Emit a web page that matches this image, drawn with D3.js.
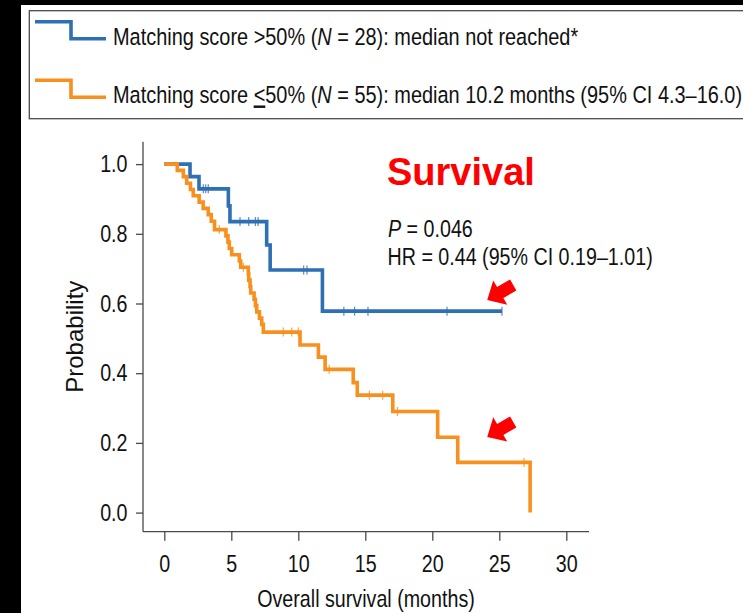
<!DOCTYPE html>
<html>
<head>
<meta charset="utf-8">
<script src="https://cdn.jsdelivr.net/npm/d3@7"></script>
<style>
  body { margin: 0; background: #fff; }
  svg { display: block; }
  text { font-family: "Liberation Sans", Arial, sans-serif; }
</style>
</head>
<body>
<div id="chart"></div>
<script>
// Kaplan-Meier steps (months, survival probability)
const blueTimes = [0, 1.92, 2.59, 4.78, 4.9, 7.64, 7.9, 11.8, 25.2];
const blueSurv = [1, 0.964, 0.929, 0.88, 0.835, 0.768, 0.696, 0.578, 0.578];
const blueCensor = [2.91, 3.09, 3.28, 5.65, 6.3, 6.8, 7.0, 10.4, 10.65, 13.4, 14.2, 15.2, 21.1, 25.2];

const orangeTimes = [0, 0.97, 1.42, 1.67, 1.95, 2.16, 2.6, 2.9, 3.28, 3.5, 3.75,
    4.6, 4.75, 4.85, 5.03, 5.6, 5.7, 6.27, 6.3, 6.4, 6.45, 6.7, 6.8, 6.9, 7.1, 7.27, 7.39,
    10.13, 11.5, 12.0, 14.1, 14.4, 17.05, 20.4, 21.9, 27.3];
const orangeSurv = [1, 0.982, 0.964, 0.945, 0.927, 0.909, 0.891, 0.873, 0.855, 0.836, 0.812,
    0.794, 0.776, 0.758, 0.74, 0.722, 0.704, 0.685, 0.667, 0.648, 0.63, 0.612, 0.594, 0.576, 0.558, 0.54, 0.518,
    0.481, 0.446, 0.411, 0.373, 0.337, 0.29, 0.216, 0.144, 0];
const orangeCensor = [4.1, 5.9, 8.88, 9.51, 10.0, 12.3, 15.3, 16.3, 17.4, 26.85];

const xTicks = [0, 5, 10, 15, 20, 25, 30];
const yTicks = [0, 0.2, 0.4, 0.6, 0.8, 1.0];

// red arrows pointing at the curves (tip position in data units)
const arrowTips = [[24.1, 0.61], [24.1, 0.217]];

const BLUE = '#2f6fb3';
const ORANGE = '#f7901e';
const AXIS = '#4a4a4a';
const SQUEEZE = 0.82;   // the figure is horizontally compressed

const W = 743, H = 613;

const svg = d3.select('#chart').append('svg')
    .attr('width', W)
    .attr('height', H);

// black edges of the screenshot
svg.append('rect').attr('x', 0).attr('y', 0).attr('width', W).attr('height', 5).attr('fill', '#000');
svg.append('rect').attr('x', 0).attr('y', 0).attr('width', 21).attr('height', H).attr('fill', '#000');

const x = d3.scaleLinear().domain([0, 30]).range([164.3, 566.3]);
const y = d3.scaleLinear().domain([0, 1]).range([512.6, 164.1]);

// squeezed text placed at (px, py)
function narrowText(px, py, size, anchor) {
    return svg.append('text')
        .attr('transform', `translate(${px},${py}) scale(${SQUEEZE},1)`)
        .attr('text-anchor', anchor || 'start')
        .attr('font-size', size)
        .attr('fill', '#111');
}

// --- legend box
svg.append('rect')
    .attr('x', 29.3).attr('y', 10.7)
    .attr('width', 800).attr('height', 108)
    .attr('fill', '#fff')
    .attr('stroke', AXIS).attr('stroke-width', 1.3);

function legendStep(color, top) {
    svg.append('path')
        .attr('d', `M35,${top}H71V${top + 17}H106`)
        .attr('fill', 'none')
        .attr('stroke', color)
        .attr('stroke-width', 3.6);
}
legendStep(BLUE, 21.7);
legendStep(ORANGE, 80.3);

const leg1 = narrowText(113, 45, 24.3);
leg1.append('tspan').text('Matching score >50% (');
leg1.append('tspan').attr('font-style', 'italic').text('N');
leg1.append('tspan').text(' = 28): median not reached*');

const leg2 = narrowText(113, 103.3, 24.3);
leg2.append('tspan').text('Matching score ');
leg2.append('tspan').style('text-decoration', 'underline').text('<');
leg2.append('tspan').text('50% (');
leg2.append('tspan').attr('font-style', 'italic').text('N');
leg2.append('tspan').text(' = 55): median 10.2 months (95% CI 4.3\u201316.0)');

// --- axes
const xAxis = svg.append('g')
    .attr('transform', 'translate(0,531.7)')
    .call(d3.axisBottom(x).tickValues(xTicks).tickSize(9).tickSizeOuter(0).tickPadding(14));
xAxis.select('.domain').remove();
xAxis.append('line').attr('x1', 143).attr('x2', 589).attr('stroke', AXIS).attr('stroke-width', 1.3);
xAxis.selectAll('.tick text')
    .attr('transform', `scale(${SQUEEZE},1)`);

const yAxis = svg.append('g')
    .attr('transform', 'translate(143,0)')
    .call(d3.axisLeft(y).tickValues(yTicks).tickSize(7).tickSizeOuter(0).tickPadding(8.5)
        .tickFormat(d3.format('.1f')));
yAxis.select('.domain').remove();
yAxis.append('line').attr('y1', 141.7).attr('y2', 531.7).attr('stroke', AXIS).attr('stroke-width', 1.3);
yAxis.selectAll('.tick text')
    .attr('x', 0)
    .attr('transform', `translate(-15.5,0) scale(${SQUEEZE},1)`);

[xAxis, yAxis].forEach(g => {
    g.selectAll('.tick line').attr('stroke', AXIS).attr('stroke-width', 1.3);
    g.selectAll('.tick text')
        .attr('font-family', '"Liberation Sans", Arial, sans-serif')
        .attr('font-size', 24)
        .attr('fill', '#111');
});

narrowText(366, 607, 24, 'middle').text('Overall survival (months)');

svg.append('text')
    .attr('transform', 'translate(82.5,336.7) rotate(-90)')
    .attr('text-anchor', 'middle')
    .attr('font-size', 24).attr('fill', '#111')
    .text('Probability');

// --- survival curves
const line = d3.line()
    .x(d => x(d[0]))
    .y(d => y(d[1]))
    .curve(d3.curveStepAfter);

function survAt(times, surv, t) {
    const i = d3.bisectRight(times, t) - 1;
    return surv[Math.max(0, i)];
}

function drawCurve(times, surv, censor, color) {
    svg.append('path')
        .datum(times.map((t, i) => [t, surv[i]]))
        .attr('d', line)
        .attr('fill', 'none')
        .attr('stroke', color)
        .attr('stroke-width', 3.6);

    svg.selectAll(null)
        .data(censor)
        .enter()
        .append('line')
        .attr('x1', d => x(d))
        .attr('x2', d => x(d))
        .attr('y1', d => y(survAt(times, surv, d)) - 4.5)
        .attr('y2', d => y(survAt(times, surv, d)) + 4.5)
        .attr('stroke', color)
        .attr('stroke-width', 1.2)
        .attr('opacity', 0.8);
}

drawCurve(blueTimes, blueSurv, blueCensor, BLUE);
drawCurve(orangeTimes, orangeSurv, orangeCensor, ORANGE);

// --- annotations
svg.append('text')
    .attr('x', 387).attr('y', 185)
    .attr('font-weight', 'bold')
    .attr('font-size', 38)
    .attr('fill', '#ff0000')
    .text('Survival');

const pText = narrowText(388, 237, 24);
pText.append('tspan').attr('font-style', 'italic').text('P');
pText.append('tspan').text(' = 0.046');

narrowText(387.5, 265, 24).text('HR = 0.44 (95% CI 0.19\u20131.01)');

const arrowShape = [[0, 0], [-15, -14], [-15, -6.3], [-30, -6.3], [-30, 6.3], [-15, 6.3], [-15, 14]];
svg.selectAll('.arrow')
    .data(arrowTips)
    .enter()
    .append('polygon')
    .attr('class', 'arrow')
    .attr('points', arrowShape.map(p => p.join(',')).join(' '))
    .attr('transform', d => `translate(${x(d[0])},${y(d[1])}) rotate(150)`)
    .attr('fill', '#ff0000');
</script>
</body>
</html>
